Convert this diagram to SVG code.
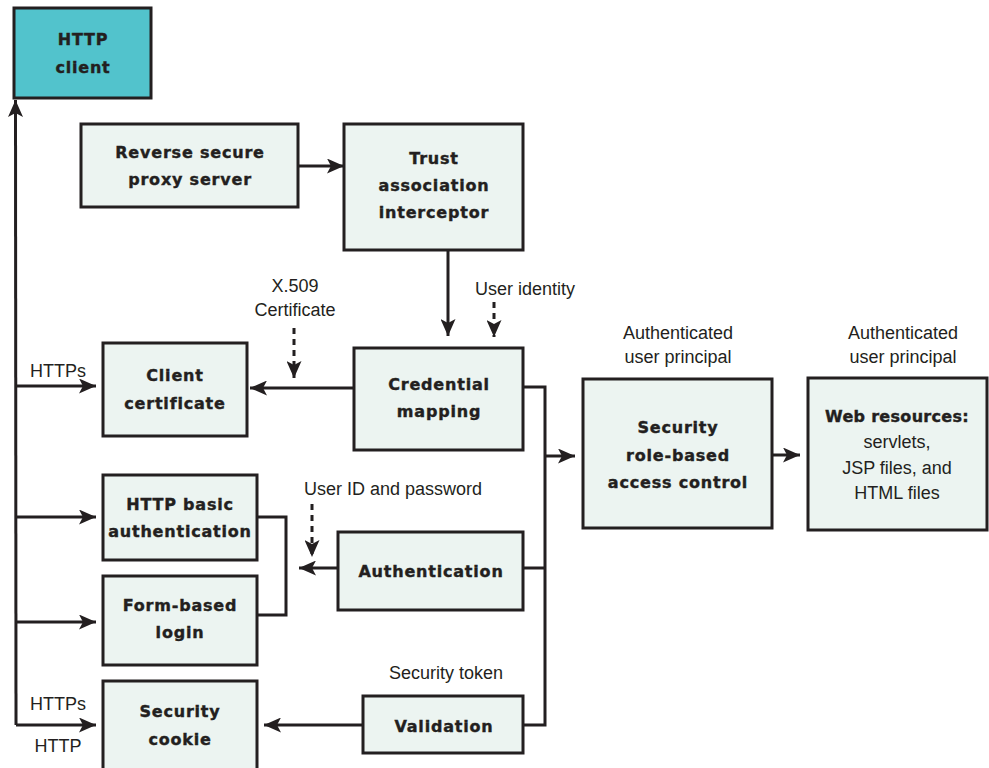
<svg xmlns="http://www.w3.org/2000/svg" width="989" height="768" viewBox="0 0 989 768">
<style>
.box{fill:#ecf4f1;stroke:#231f20;stroke-width:3}
.client{fill:#52c3cc;stroke:#231f20;stroke-width:3}
.b{font-family:"DejaVu Sans",sans-serif;font-weight:bold;font-size:16px;letter-spacing:0.8px;fill:#231f20;stroke:#231f20;stroke-width:0.4px;text-anchor:middle}
.t{font-family:"Liberation Sans",Arial,sans-serif;font-size:18px;fill:#231f20;text-anchor:middle}
.ln{fill:none;stroke:#231f20;stroke-width:3}
.dash{fill:none;stroke:#231f20;stroke-width:3;stroke-dasharray:6 5}
</style>
<defs>
<marker id="ah" viewBox="0 0 17 15" refX="17" refY="7.5" markerWidth="17" markerHeight="15" markerUnits="userSpaceOnUse" orient="auto">
<path d="M0,0 L17,7.5 L0,15 L4,7.5 Z" fill="#231f20"/>
</marker>
</defs>
<rect width="989" height="768" fill="#ffffff"/>

<g id="connectors">
<path class="ln" d="M16,725 L15.5,100" marker-end="url(#ah)"/>
<path class="ln" d="M16,386 H96" marker-end="url(#ah)"/>
<path class="ln" d="M16,517 H96" marker-end="url(#ah)"/>
<path class="ln" d="M16,622 H96" marker-end="url(#ah)"/>
<path class="ln" d="M16,725 H96" marker-end="url(#ah)"/>
<path class="ln" d="M298,166 H344" marker-end="url(#ah)"/>
<path class="ln" d="M448,250 V336" marker-end="url(#ah)"/>
<path class="dash" d="M494,302 V337" marker-end="url(#ah)"/>
<path class="ln" d="M354,388 H250" marker-end="url(#ah)"/>
<path class="dash" d="M294,328 V378" marker-end="url(#ah)"/>
<path class="ln" d="M523,387 H545 V725 H523"/>
<path class="ln" d="M523,568 H545"/>
<path class="ln" d="M545,456 H575" marker-end="url(#ah)"/>
<path class="ln" d="M338,568 H299" marker-end="url(#ah)"/>
<path class="ln" d="M257,517 H286 V615 H257"/>
<path class="dash" d="M312,504 V557" marker-end="url(#ah)"/>
<path class="ln" d="M363,725 H264" marker-end="url(#ah)"/>
<path class="ln" d="M772,455 H800" marker-end="url(#ah)"/>
</g>

<g id="http-client">
<rect class="client" x="14" y="8" width="137" height="90"/>
<text class="b" x="83" y="45">HTTP</text>
<text class="b" x="83" y="73">client</text>
</g>
<g id="reverse-proxy">
<rect class="box" x="81" y="124" width="217" height="83"/>
<text class="b" x="190" y="158">Reverse secure</text>
<text class="b" x="190" y="185">proxy server</text>
</g>
<g id="trust-association">
<rect class="box" x="344" y="124" width="179" height="126"/>
<text class="b" x="434" y="164">Trust</text>
<text class="b" x="434" y="191">association</text>
<text class="b" x="434" y="218">interceptor</text>
</g>
<g id="credential-mapping">
<rect class="box" x="354" y="348" width="169" height="102"/>
<text class="b" x="439" y="390">Credential</text>
<text class="b" x="439" y="417">mapping</text>
</g>
<g id="client-certificate">
<rect class="box" x="103" y="343" width="144" height="93"/>
<text class="b" x="175" y="381">Client</text>
<text class="b" x="175" y="409">certificate</text>
</g>
<g id="http-basic">
<rect class="box" x="103" y="475" width="154" height="85"/>
<text class="b" x="180" y="510">HTTP basic</text>
<text class="b" x="180" y="537">authentication</text>
</g>
<g id="form-based">
<rect class="box" x="103" y="576" width="154" height="89"/>
<text class="b" x="180" y="611">Form-based</text>
<text class="b" x="180" y="638">login</text>
</g>
<g id="security-cookie">
<rect class="box" x="103" y="681" width="154" height="90"/>
<text class="b" x="180" y="717">Security</text>
<text class="b" x="180" y="745">cookie</text>
</g>
<g id="authentication">
<rect class="box" x="338" y="532" width="185" height="78"/>
<text class="b" x="431" y="577">Authentication</text>
</g>
<g id="validation">
<rect class="box" x="363" y="696" width="160" height="57"/>
<text class="b" x="444" y="732">Validation</text>
</g>
<g id="security-role">
<rect class="box" x="583" y="379" width="189" height="149"/>
<text class="b" x="678" y="433">Security</text>
<text class="b" x="678" y="461">role-based</text>
<text class="b" x="678" y="488">access control</text>
</g>
<g id="web-resources">
<rect class="box" x="808" y="378" width="179" height="152"/>
<text class="b" x="897" y="422" style="letter-spacing:0.3px">Web resources:</text>
<text class="t" x="897" y="448">servlets,</text>
<text class="t" x="897" y="474">JSP files, and</text>
<text class="t" x="897" y="499">HTML files</text>
</g>

<g id="labels">
<text class="t" x="525" y="295">User identity</text>
<text class="t" x="295" y="292">X.509</text>
<text class="t" x="295" y="316">Certificate</text>
<text class="t" x="678" y="339">Authenticated</text>
<text class="t" x="678" y="363">user principal</text>
<text class="t" x="903" y="339">Authenticated</text>
<text class="t" x="903" y="363">user principal</text>
<text class="t" x="58" y="377">HTTPs</text>
<text class="t" x="393" y="495">User ID and password</text>
<text class="t" x="446" y="679">Security token</text>
<text class="t" x="58" y="710">HTTPs</text>
<text class="t" x="58" y="752">HTTP</text>
</g>
</svg>
